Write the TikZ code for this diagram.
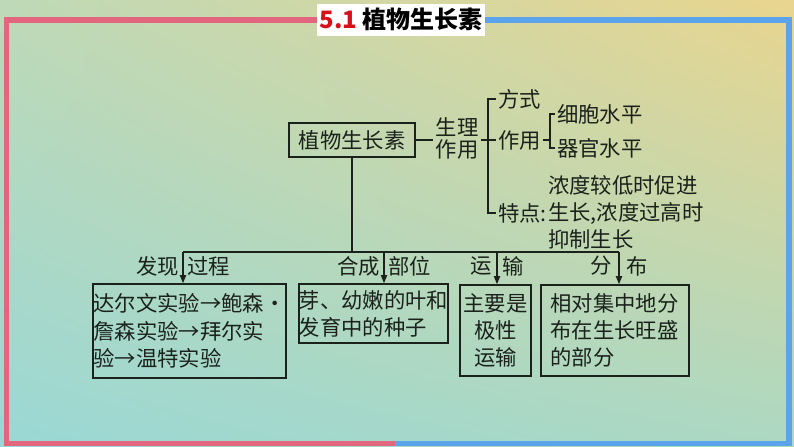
\documentclass[tikz,border=0pt]{standalone}
\usepackage{fontspec}
\setmainfont{Noto Sans CJK SC}
\usetikzlibrary{arrows.meta,positioning,calc,shadings}
\definecolor{auink}{HTML}{1A221B}
\definecolor{aured}{HTML}{E2677E}
\definecolor{aublue}{HTML}{5BA3EA}
\definecolor{autitle}{HTML}{D8101C}
\definecolor{bgul}{HTML}{BED9B7}
\definecolor{bgur}{HTML}{E9D58E}
\definecolor{bgll}{HTML}{9AD8D5}
\definecolor{bglr}{HTML}{ACD8C2}

\begin{document}
\begin{tikzpicture}[
 x=0.75pt,y=-0.75pt,
 every node/.style={font=\fontsize{16}{20.4}\selectfont,text=auink,inner sep=1.5pt},
 kbox/.style={draw=auink,line width=1.2pt,inner sep=0pt},
 link/.style={draw=auink,line width=1.1pt},
 flow/.style={link,-{Triangle[length=6pt,width=4.6pt]}}]
\shade[upper left=bgul,upper right=bgur,lower left=bgll,lower right=bglr] (0,0) rectangle (794,447);
\useasboundingbox (0,0) rectangle (794,447);
\draw[aured,line width=3.8pt] (318,20) -- (6.5,20) -- (6.5,443.5) -- (395,443.5);
\draw[aublue,line width=3.8pt] (484,20) -- (789,20) -- (789,443.5) -- (395,443.5);
\node[fill=white,minimum width=125pt,minimum height=24pt,font=\fontsize{18}{20}\selectfont\bfseries,text=black] (title) at (401,19.5) {\textcolor{autitle}{5.1} 植物生长素};

\node[kbox,minimum width=94.5pt,minimum height=25.5pt] (auxin) at (352,140) {植物生长素};
\node[align=center,font=\fontsize{16}{16.5}\selectfont] (physio) at (457,138) {生理\\作用};
\node[anchor=west] (mode) at (496,99) {方式};
\node[anchor=west] (role) at (496,140) {作用};
\node[anchor=west] (feat) at (496,213) {特点:};
\node[anchor=west] (cell) at (555,114) {细胞水平};
\node[anchor=west] (organ) at (555,148) {器官水平};
\node[anchor=west,align=left,font=\fontsize{16}{20.3}\selectfont,inner sep=0pt] (feattxt) at (548,212) {浓度较低时促进\\生长,浓度过高时\\抑制生长};
\coordinate (br1) at (488,0);
\coordinate (br2) at (550,0);
\draw[link] (auxin.east) -- (auxin.east -| physio.west);
\draw[link] (physio.east |- role.west) -- (role.west);
\draw[link] (mode.west) -- (mode.west -| br1) -- (feat.west -| br1) -- (feat.west);
\draw[link] (role.east) -- (role.east -| br2);
\draw[link] (cell.west) -- (cell.west -| br2) -- (organ.west -| br2) -- (organ.west);

\node[kbox,minimum width=144.75pt,minimum height=70.5pt,align=left] (hist) at (189.5,331) {达尔文实验→鲍森·\\詹森实验→拜尔实\\验→温特实验};
\node[kbox,minimum width=110.25pt,minimum height=44.25pt,align=left] (site) at (373.5,313.5) {芽、幼嫩的叶和\\发育中的种子};
\node[kbox,minimum width=53.25pt,minimum height=68.25pt,align=center] (trans) at (495.5,330.5) {主要是\\极性\\运输};
\node[kbox,minimum width=111pt,minimum height=68.25pt,align=left,text width=97pt] (distr) at (615,330.5) {相对集中地分\\布在生长旺盛\\的部分};

\coordinate (a1) at (183,252);
\coordinate (a2) at (384,252);
\coordinate (a3) at (497,252);
\coordinate (a4) at (619,252);
\draw[link] (auxin.south) -- (auxin.south |- a1);
\draw[link] (a1) -- (a4);
\draw[flow] (a1) -- (a1 |- hist.north);
\draw[flow] (a2) -- (a2 |- site.north);
\draw[flow] (a3) -- (a3 |- trans.north);
\draw[flow] (a4) -- (a4 |- distr.north);
\node[anchor=east] (l1a) at ($(a1)+(-2,14)$) {发现};
\node[anchor=west] (l1b) at ($(a1)+(2,14)$) {过程};
\node[anchor=east] (l2a) at ($(a2)+(-2,14)$) {合成};
\node[anchor=west] (l2b) at ($(a2)+(2,14)$) {部位};
\node[anchor=east] (l3a) at ($(a3)+(-3,14)$) {运};
\node[anchor=west] (l3b) at ($(a3)+(3,14)$) {输};
\node[anchor=east] (l4a) at ($(a4)+(-5,14)$) {分};
\node[anchor=west] (l4b) at ($(a4)+(5,14)$) {布};
\end{tikzpicture}
\end{document}
